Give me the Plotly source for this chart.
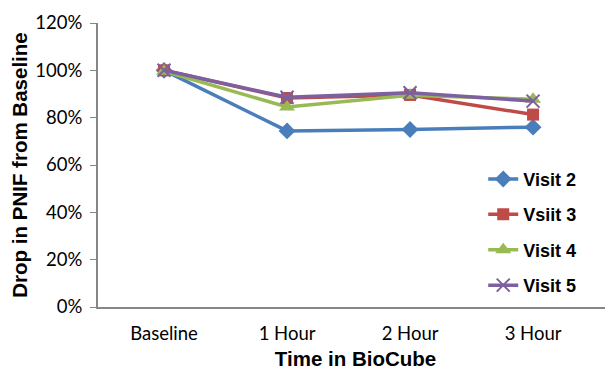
import plotly.graph_objects as go

categories = ["Baseline", "1 Hour", "2 Hour", "3 Hour"]
series_names = ["Visit 2", "Vsiit 3", "Visit 4", "Visit 5"]
visit2 = [100, 74.4, 75.0, 76.0]
visit3 = [100, 88.3, 89.6, 81.3]
visit4 = [99.6, 84.5, 89.5, 87.8]
visit5 = [100, 88.6, 90.5, 87.0]
y_ticks = [0, 20, 40, 60, 80, 100, 120]
y_tick_labels = ["0%", "20%", "40%", "60%", "80%", "100%", "120%"]

colors = ["#4A7EBB", "#BE4B48", "#98B954", "#7D60A0"]
symbols = ["diamond", "square", "triangle-up", "x-thin"]
sizes = [13, 12, 14, 13]

fig = go.Figure()
for i, (name, vals) in enumerate(zip(series_names, [visit2, visit3, visit4, visit5])):
    marker = dict(symbol=symbols[i], size=sizes[i], color=colors[i])
    if symbols[i] == "x-thin":
        marker["line"] = dict(color=colors[i], width=2)
    fig.add_trace(go.Scatter(
        x=list(range(len(categories))), y=vals, name=name, mode="lines+markers",
        line=dict(color=colors[i], width=3.5), marker=marker, legendgroup=name,
    ))

legend_font = dict(family="Liberation Sans, Arial", size=18, color="#000", weight="bold")
title_font = dict(family="Liberation Sans, Arial", size=20.5, color="#000", weight="bold")

fig.update_layout(
    width=613, height=373,
    margin=dict(l=90, r=8, t=15, b=74),
    paper_bgcolor="white", plot_bgcolor="white",
    font=dict(family="Lato", size=18, color="#000"),
    showlegend=True,
    legend=dict(x=0.748, y=0.515, xanchor="left", yanchor="top",
                font=legend_font, tracegroupgap=9, bgcolor="rgba(0,0,0,0)", itemwidth=30),
    xaxis=dict(
        range=[-0.537, 3.65], tickmode="array", tickvals=list(range(len(categories))),
        ticktext=categories, showgrid=False, zeroline=False, showline=True,
        linecolor="#868686", linewidth=2, ticks="", ticklabelstandoff=9,
        tickfont=dict(family="Lato", size=18.5, color="#000"),
        title=dict(text="Time in BioCube", standoff=8, font=title_font),
        automargin=False,
    ),
    yaxis=dict(
        range=[0, 120], tickmode="array", tickvals=y_ticks, ticktext=y_tick_labels,
        showgrid=False, zeroline=False, showline=True, linecolor="#868686", linewidth=2,
        ticks="outside", ticklen=6, tickcolor="#868686", tickwidth=1,
        tickfont=dict(family="Lato", size=18.5, color="#000"), ticklabelstandoff=4,
        title=dict(text="Drop in PNIF from Baseline", standoff=8, font=title_font),
        automargin=False,
    ),
)

fig.write_html("out.html")
